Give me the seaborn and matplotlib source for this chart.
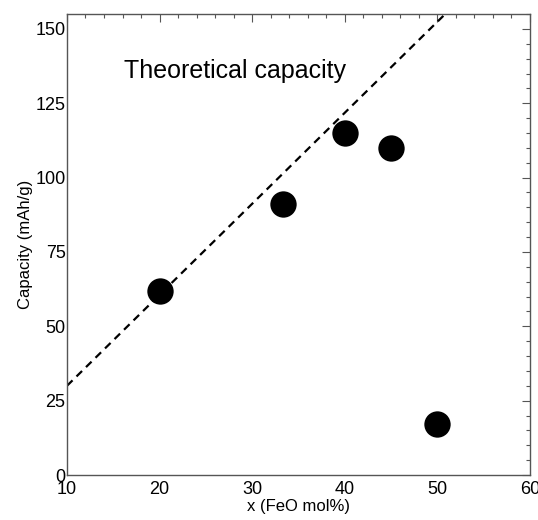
import matplotlib
matplotlib.use("Agg")
import matplotlib.pyplot as plt
import seaborn as sns
import pandas as pd
from matplotlib.ticker import MultipleLocator

# measured capacities
feo_mol = [20, 33.3, 40, 45, 50]
capacity = [62, 91, 115, 110, 17]

# theoretical capacity line (end points)
theory_x = [10, 60]
theory_y = [30, 183]

sns.set_theme(style="white")
plt.rcParams['font.family'] = ['Liberation Sans', 'DejaVu Sans']
plt.rcParams['text.color'] = 'black'
plt.rcParams['axes.labelcolor'] = 'black'
plt.rcParams['xtick.labelcolor'] = 'black'
plt.rcParams['ytick.labelcolor'] = 'black'

fig = plt.figure(figsize=(5.38, 5.2), dpi=100)
ax = fig.add_axes([0.1245, 0.0865, 0.8605, 0.8865])

df = pd.DataFrame({'x': feo_mol, 'cap': capacity})
line_df = pd.DataFrame({'x': theory_x, 'cap': theory_y})

sns.lineplot(data=line_df, x='x', y='cap', ax=ax, color='black',
             linestyle=(0, (3.5, 2.5)), linewidth=1.6)
sns.scatterplot(data=df, x='x', y='cap', ax=ax, color='black', s=360,
                edgecolor='black', linewidth=0, zorder=3)

ax.set_xlim(10, 60)
ax.set_ylim(0, 155)
ax.xaxis.set_major_locator(MultipleLocator(10))
ax.xaxis.set_minor_locator(MultipleLocator(2))
ax.yaxis.set_major_locator(MultipleLocator(25))
ax.yaxis.set_minor_locator(MultipleLocator(5))
ax.tick_params(which='both', direction='in', top=True, right=True,
               labeltop=False, labelright=False, color='#555555', width=0.8)
ax.tick_params(which='major', length=6, labelsize=13)
ax.tick_params(which='minor', length=3)
ax.tick_params(axis='y', pad=1)
ax.tick_params(axis='x', pad=4)
for sp in ax.spines.values():
    sp.set_color('#555555')
    sp.set_linewidth(1.0)

ax.set_xlabel('x (FeO mol%)', fontsize=12, labelpad=1)
ax.set_ylabel('Capacity (mAh/g)', fontsize=12, labelpad=2)
ax.text(16.2, 136, 'Theoretical capacity', fontsize=18, va='center')

fig.savefig('out.png', dpi=100)
